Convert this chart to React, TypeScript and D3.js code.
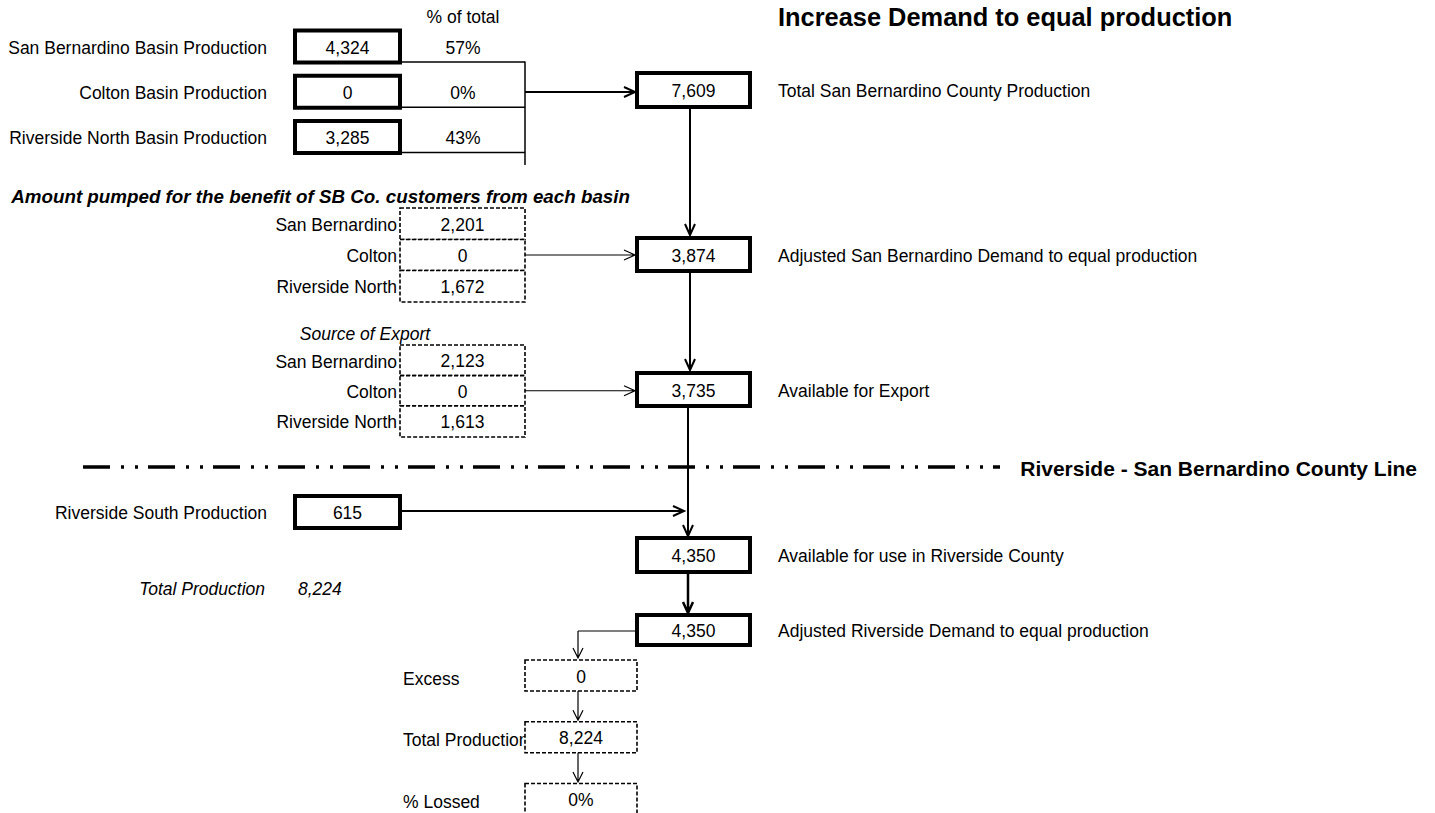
import React from "react";
import * as d3 from "d3";

// ---------- data ----------
const basinLabels = ["San Bernardino Basin Production", "Colton Basin Production", "Riverside North Basin Production"];
const basinProduction = [4324, 0, 3285];
const basinShare = [0.57, 0, 0.43];

const sourceLabels = ["San Bernardino", "Colton", "Riverside North"];
const pumpedForSB = [2201, 0, 1672];
const exportSource = [2123, 0, 1613];

const flowLabels = [
  "Total San Bernardino County Production",
  "Adjusted San Bernardino Demand to equal production",
  "Available for Export",
  "Available for use in Riverside County",
  "Adjusted Riverside Demand to equal production",
];
const flowValues = [7609, 3874, 3735, 4350, 4350];

const southLabel = "Riverside South Production";
const southProduction = 615;
const totalProductionLabel = "Total Production";
const totalProduction = 8224;

const summaryLabels = ["Excess", "Total Production", "% Lossed"];
const summaryValues = [0, 8224, 0];
const summaryIsPct = [false, false, true];

// ---------- layout ----------
const W = 1435, H = 813;
const FONT = "'Liberation Sans', Arial, sans-serif";
const FS = 17.5;
const fmt = d3.format(",");
const pct = d3.format(".0%");

const topRows = d3.scaleLinear().domain([0, 2]).range([46.5, 137]);
const pumpRows = d3.scaleLinear().domain([0, 2]).range([224, 286]);
const expRows = d3.scaleLinear().domain([0, 2]).range([360.5, 421]);
const flowY = [90, 254.5, 389.5, 555, 630];
const flowH = [34, 33, 33, 34, 30];
const sumRows = d3.scaleLinear().domain([0, 2]).range([675.5, 799]);

function Arrow({ x1, y1, x2, y2, w = 2, size = 10, half = 5 }: any) {
  const ang = Math.atan2(y2 - y1, x2 - x1);
  const bx = x2 - size * Math.cos(ang), by = y2 - size * Math.sin(ang);
  const px = -Math.sin(ang) * half, py = Math.cos(ang) * half;
  const p = d3.path();
  p.moveTo(x1, y1);
  p.lineTo(x2, y2);
  p.moveTo(bx + px, by + py);
  p.lineTo(x2, y2);
  p.lineTo(bx - px, by - py);
  return <path d={p.toString()} fill="none" stroke="#000" strokeWidth={w} />;
}

function Box({ x, y, w, h, text, dashed = false }: any) {
  return (
    <g>
      <rect x={x} y={y} width={w} height={h} fill="#fff" stroke="#000"
        strokeWidth={dashed ? 1.6 : 4} strokeDasharray={dashed ? "4 2" : undefined} />
      <text x={x + w / 2} y={y + h / 2 + 1} textAnchor="middle" dominantBaseline="central" fontSize={FS}>{text}</text>
    </g>
  );
}

export default function App() {
  const bx0 = 295, bx1 = 400; // top boxes
  const fx0 = 637, fx1 = 750; // flow boxes
  const dx0 = 400, dx1 = 525; // dotted source boxes
  const sx0 = 525, sx1 = 637; // summary boxes
  const busX = 525;
  const mainX = 690;
  const labX = 778;
  const sumCx = 578;

  const fTop = (i: number) => flowY[i] - flowH[i] / 2;
  const fBot = (i: number) => flowY[i] + flowH[i] / 2;

  return (
    <svg width={W} height={H} style={{ position: "absolute", left: 0, top: 0, background: "#fff" }} fontFamily={FONT}>
      {/* header */}
      <text x={463} y={17} textAnchor="middle" dominantBaseline="central" fontSize={FS}>% of total</text>
      <text x={778} y={17} dominantBaseline="central" fontSize={25.4} fontWeight="bold">Increase Demand to equal production</text>

      {/* top basins */}
      {basinLabels.map((l, i) => {
        const cy = topRows(i);
        return (
          <g key={l}>
            <text x={267} y={cy + 1} textAnchor="end" dominantBaseline="central" fontSize={FS}>{l}</text>
            <line x1={bx1} x2={busX} y1={cy + 15.5} y2={cy + 15.5} stroke="#000" strokeWidth={1.5} />
            <Box x={bx0} y={cy - 16} w={bx1 - bx0} h={32} text={fmt(basinProduction[i])} />
            <text x={463} y={cy + 1} textAnchor="middle" dominantBaseline="central" fontSize={FS}>{pct(basinShare[i])}</text>
          </g>
        );
      })}
      <line x1={busX} x2={busX} y1={topRows(0) + 15} y2={165} stroke="#000" strokeWidth={1.5} />
      <Arrow x1={busX} y1={flowY[0] + 2} x2={fx0 - 2} y2={flowY[0] + 2} w={2} size={11} half={5} />

      {/* flow boxes */}
      {flowLabels.map((l, i) => (
        <g key={l}>
          <Box x={fx0} y={fTop(i)} w={fx1 - fx0} h={flowH[i]} text={fmt(flowValues[i])} />
          <text x={labX} y={flowY[i] + 1} dominantBaseline="central" fontSize={FS}>{l}</text>
        </g>
      ))}
      <Arrow x1={mainX} y1={fBot(0) + 2} x2={mainX} y2={fTop(1) - 3} w={2} size={11} half={5} />
      <Arrow x1={mainX} y1={fBot(1) + 2} x2={mainX} y2={fTop(2) - 3} w={2} size={11} half={5} />

      {/* pumped for SB */}
      <text x={630} y={196} textAnchor="end" dominantBaseline="central" fontSize={18.8} fontWeight="bold" fontStyle="italic">Amount pumped for the benefit of SB Co. customers from each basin</text>
      {sourceLabels.map((l, i) => {
        const y0 = i === 0 ? 208 : (pumpRows(i - 1) + pumpRows(i)) / 2;
        const y1 = i === 2 ? 302 : (pumpRows(i) + pumpRows(i + 1)) / 2;
        return (
          <g key={"p" + l}>
            <text x={397} y={pumpRows(i) + 1} textAnchor="end" dominantBaseline="central" fontSize={FS}>{l}</text>
            <Box x={dx0} y={y0} w={dx1 - dx0} h={y1 - y0} text={fmt(pumpedForSB[i])} dashed />
          </g>
        );
      })}
      <Arrow x1={dx1} y1={pumpRows(1)} x2={fx0 - 2} y2={pumpRows(1)} w={1.2} size={11} half={5} />

      {/* source of export */}
      <text x={365} y={334} textAnchor="middle" dominantBaseline="central" fontSize={FS} fontStyle="italic">Source of Export</text>
      {sourceLabels.map((l, i) => {
        const y0 = i === 0 ? 345 : (expRows(i - 1) + expRows(i)) / 2;
        const y1 = i === 2 ? 437 : (expRows(i) + expRows(i + 1)) / 2;
        return (
          <g key={"e" + l}>
            <text x={397} y={expRows(i) + 1} textAnchor="end" dominantBaseline="central" fontSize={FS}>{l}</text>
            <Box x={dx0} y={y0} w={dx1 - dx0} h={y1 - y0} text={fmt(exportSource[i])} dashed />
          </g>
        );
      })}
      <Arrow x1={dx1} y1={expRows(1)} x2={fx0 - 2} y2={expRows(1)} w={1.2} size={11} half={5} />

      {/* county line */}
      <line x1={83} x2={1000} y1={467} y2={467} stroke="#000" strokeWidth={3.5} strokeDasharray="27 11 3 11 3 10" />
      <text x={1417} y={468} textAnchor="end" dominantBaseline="central" fontSize={21} fontWeight="bold">Riverside - San Bernardino County Line</text>
      <Arrow x1={688} y1={fBot(2) + 2} x2={688} y2={fTop(3) - 2} w={2} size={11} half={5} />

      {/* riverside south */}
      <text x={267} y={513} textAnchor="end" dominantBaseline="central" fontSize={FS}>{southLabel}</text>
      <Box x={295} y={496} w={105} h={32} text={fmt(southProduction)} />
      <Arrow x1={400} y1={511} x2={684} y2={511} w={2} size={11} half={5} />

      <text x={265} y={589} textAnchor="end" dominantBaseline="central" fontSize={FS} fontStyle="italic">{totalProductionLabel}</text>
      <text x={298} y={589} dominantBaseline="central" fontSize={FS} fontStyle="italic">{fmt(totalProduction)}</text>

      <Arrow x1={688} y1={fBot(3) + 2} x2={688} y2={fTop(4) - 2} w={2.5} size={11} half={5} />

      {/* summary */}
      <path d={`M${fx0},${flowY[4] + 1}H${sumCx}`} stroke="#000" strokeWidth={1.2} fill="none" />
      <Arrow x1={sumCx} y1={flowY[4] + 1} x2={sumCx} y2={658} w={1.2} size={10} half={5} />
      {summaryLabels.map((l, i) => {
        const cy = sumRows(i);
        const v = summaryIsPct[i] ? pct(summaryValues[i]) : fmt(summaryValues[i]);
        return (
          <g key={l}>
            <text x={403} y={cy + 3} dominantBaseline="central" fontSize={FS}>{l}</text>
            <Box x={sx0} y={cy - 15.5} w={sx1 - sx0} h={31} text={v} dashed />
          </g>
        );
      })}
      <Arrow x1={sumCx} y1={sumRows(0) + 15.5} x2={sumCx} y2={sumRows(1) - 17} w={1.2} size={10} half={5} />
      <Arrow x1={sumCx} y1={sumRows(1) + 15.5} x2={sumCx} y2={sumRows(2) - 17} w={1.2} size={10} half={5} />
    </svg>
  );
}
